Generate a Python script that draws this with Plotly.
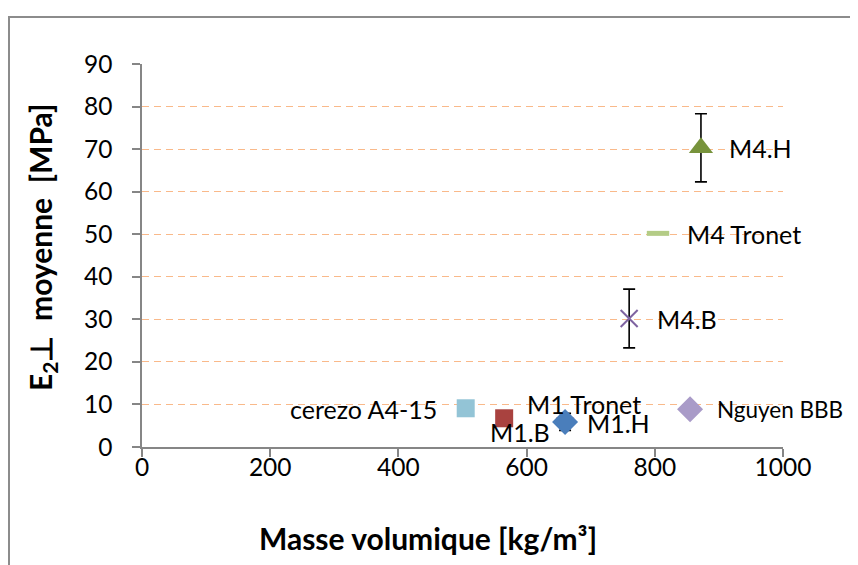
import plotly.graph_objects as go

# ---- data ----
names = ["cerezo A4-15", "M1.B", "M1 Tronet", "M1.H", "Nguyen BBB", "M4.B", "M4 Tronet", "M4.H"]
density = [505, 565, 660, 660, 855, 760, 805, 872]
modulus = [9.1, 6.75, 6.4, 5.9, 8.9, 30.2, 50.2, 70.3]
err = [None, None, None, 2.0, None, 6.9, None, 8.0]

x_ticks = [0, 200, 400, 600, 800, 1000]
y_ticks = [0, 10, 20, 30, 40, 50, 60, 70, 80, 90]

# ---- styles ----
styles = {
    "cerezo A4-15": dict(symbol="square", color="#93C4D6", size=18, lw=0, lc="#93C4D6"),
    "M1.B": dict(symbol="square", color="#A9423F", size=18, lw=0, lc="#A9423F"),
    "M1 Tronet": dict(symbol="line-ew", color="#E39A98", size=13, lw=5, lc="#E39A98"),
    "M1.H": dict(symbol="diamond", color="#4A7EBB", size=20, lw=0, lc="#4A7EBB"),
    "Nguyen BBB": dict(symbol="diamond", color="#A99BC8", size=20, lw=0, lc="#A99BC8"),
    "M4.B": dict(symbol="x-thin", color="#7E63A1", size=17, lw=2, lc="#7E63A1"),
    "M4 Tronet": dict(symbol="line-ew", color="#B4CC86", size=16, lw=5, lc="#B4CC86"),
    "M4.H": dict(symbol="triangle-up", color="#77933C", size=21, lw=0, lc="#77933C"),
}
# label offsets (pixels), anchors and sizes
label_pos = {
    "cerezo A4-15": dict(xanchor="right", xshift=-27, yshift=-1, size=25),
    "M1.B": dict(xanchor="center", xshift=16, yshift=-14, size=25),
    "M1 Tronet": dict(xanchor="left", xshift=-40, yshift=16, size=25),
    "M1.H": dict(xanchor="left", xshift=20, yshift=-1, size=25),
    "Nguyen BBB": dict(xanchor="left", xshift=25, yshift=0, size=22.5),
    "M4.B": dict(xanchor="left", xshift=26, yshift=-1, size=25),
    "M4 Tronet": dict(xanchor="left", xshift=27, yshift=-1, size=25),
    "M4.H": dict(xanchor="left", xshift=26, yshift=0, size=25),
}

FONT = "Lato, Carlito, Calibri, sans-serif"

fig = go.Figure()
for n, x, y, e in zip(names, density, modulus, err):
    s = styles[n]
    tr = dict(
        x=[x], y=[y], mode="markers", name=n, showlegend=False,
        marker=dict(symbol=s["symbol"], color=s["color"], size=s["size"],
                    line=dict(width=s["lw"], color=s["lc"])),
    )
    if e is not None:
        tr["error_y"] = dict(type="data", array=[e], visible=True,
                             color="black", thickness=1.6, width=6)
    fig.add_trace(go.Scatter(**tr))

annotations = []
for n, x, y in zip(names, density, modulus):
    p = label_pos[n]
    annotations.append(dict(
        x=x, y=y, xref="x", yref="y", text=n, showarrow=False,
        xanchor=p["xanchor"], yanchor="middle", xshift=p["xshift"], yshift=p["yshift"],
        font=dict(family=FONT, size=p["size"], color="black"),
    ))

# axis titles
annotations.append(dict(
    x=0.446, y=-0.2376, xref="paper", yref="paper", showarrow=False,
    text="<b>Masse volumique [kg/m³]</b>", xanchor="center", yanchor="middle",
    font=dict(family=FONT, size=30, color="black"),
))
annotations.append(dict(
    x=-0.156, y=0.5196, xref="paper", yref="paper", showarrow=False,
    text="<b>E<sub>2</sub>⊥  moyenne  [MPa]</b>", xanchor="center", yanchor="middle",
    textangle=-90, font=dict(family=FONT, size=30, color="black"),
))

fig.update_layout(
    width=850, height=557,
    margin=dict(l=134, r=75, t=56, b=118),
    paper_bgcolor="white", plot_bgcolor="white",
    font=dict(family=FONT, size=24.5, color="black"),
    annotations=annotations,
    shapes=[dict(type="rect", xref="paper", yref="paper",
                 x0=-0.2075, x1=1.5, y0=-1.0, y1=1.1227,
                 line=dict(color="#8C8C8C", width=2), fillcolor="rgba(0,0,0,0)",
                 layer="below")],
)
fig.update_xaxes(
    range=[0, 1000], tickvals=x_ticks, ticktext=[str(v) for v in x_ticks],
    showgrid=False, zeroline=False, showline=True, linecolor="#868686", linewidth=1.5,
    ticks="outside", ticklen=8, tickcolor="#868686", tickwidth=1.5,
    ticklabelstandoff=-10,
    tickfont=dict(family=FONT, size=24.5, color="black"),
)
fig.update_yaxes(
    range=[0, 90], tickvals=y_ticks, ticktext=[str(v) for v in y_ticks],
    showgrid=True, gridcolor="#F9B98A", griddash="7px,5px", gridwidth=1,
    zeroline=False, showline=True, linecolor="#868686", linewidth=1.5,
    ticks="outside", ticklen=8, tickcolor="#868686", tickwidth=1.5,
    ticklabelstandoff=15,
    tickfont=dict(family=FONT, size=24.5, color="black"),
)

fig.write_html("out.html")
